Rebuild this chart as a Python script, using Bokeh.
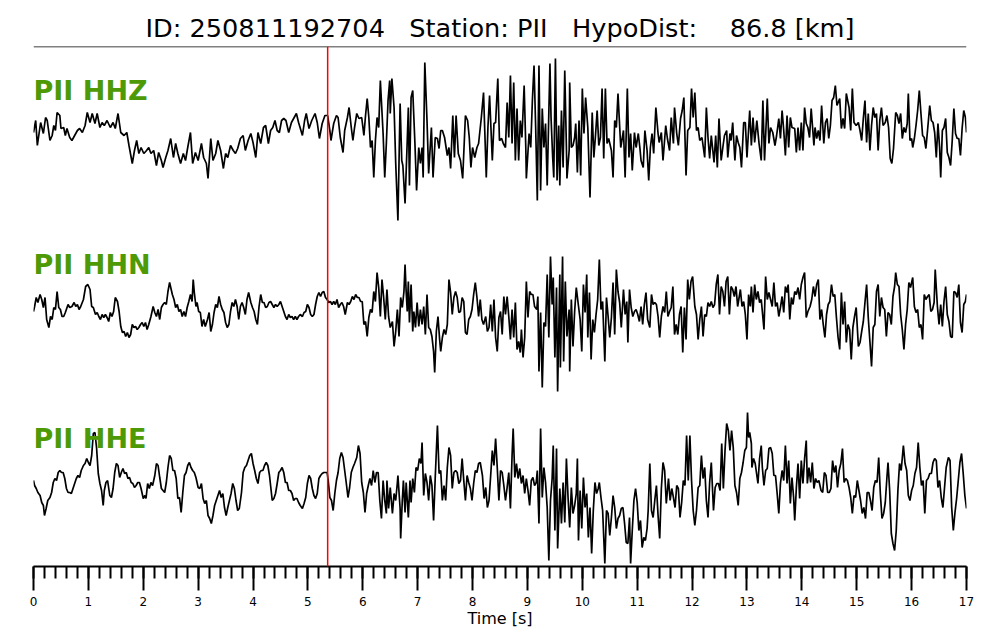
from bokeh.plotting import figure
from bokeh.models import Range1d, Span, SingleIntervalTicker, Label
from bokeh.embed import file_html
from bokeh.resources import INLINE

EVENT_ID = "250811192704"
STATION = "PII"
HYPO_DIST_KM = 86.8
P_PICK_S = 5.36
CHANNELS = ["HHZ", "HHN", "HHE"]

# (time [s], normalised amplitude) samples
HHZ = [(0.00,-2),(0.04,10),(0.07,-15),(0.13,8),(0.18,-3),(0.22,13),(0.25,10),(0.30,-10),(0.34,-5),(0.37,5),(0.40,0),(0.43,18),(0.48,15),(0.50,2),(0.55,3),(0.58,-5),(0.61,2),(0.66,-7),(0.70,-10),(0.75,-5),(0.80,0),(0.84,2),(0.89,-2),(0.94,5),(0.98,18),(1.03,8),(1.07,17),(1.12,7),(1.16,17),(1.21,3),(1.25,8),(1.29,5),(1.34,10),(1.40,3),(1.45,8),(1.49,2),(1.54,17),(1.59,-2),(1.65,-5),(1.70,-2),(1.74,-15),(1.80,-33),(1.84,-20),(1.88,-10),(1.92,-23),(1.96,-17),(2.01,-23),(2.06,-20),(2.10,-17),(2.14,-23),(2.19,-20),(2.24,-35),(2.28,-22),(2.33,-30),(2.36,-37),(2.41,-27),(2.45,-20),(2.50,-8),(2.55,-27),(2.59,-13),(2.63,-23),(2.68,-33),(2.73,-23),(2.77,-30),(2.81,-17),(2.86,-2),(2.90,-33),(2.95,-22),(3.00,-30),(3.06,-13),(3.10,-27),(3.15,-33),(3.18,-48),(3.23,-8),(3.27,-30),(3.32,-23),(3.36,-10),(3.41,-20),(3.46,-38),(3.50,-23),(3.54,-27),(3.59,-15),(3.64,-20),(3.68,-23),(3.72,-18),(3.77,-8),(3.82,-5),(3.86,-20),(3.91,-10),(3.96,-3),(4.00,-12),(4.05,-27),(4.09,-2),(4.14,-13),(4.19,3),(4.23,5),
       (4.28,-13),(4.32,0),(4.36,3),(4.40,10),(4.44,0),(4.48,-2),(4.52,10),(4.56,12),(4.60,10),(4.65,-2),(4.70,8),(4.74,12),(4.79,17),(4.83,8),(4.90,-5),(4.94,10),(4.97,17),(5.02,2),(5.07,10),(5.13,17),(5.17,8),(5.21,-8),(5.26,7),(5.31,15),(5.36,15),(5.40,0),(5.42,-10),(5.47,7),(5.52,15),(5.55,13),(5.59,-7),(5.64,-22),(5.67,0),(5.72,13),(5.75,23),(5.79,3),(5.82,-10),(5.85,3),(5.89,17),(5.93,12),(5.98,13),(6.02,-5),(6.05,15),(6.08,32),(6.11,13),(6.14,-17),(6.17,-10),(6.20,-47),(6.23,-10),(6.26,13),(6.29,3),(6.32,50),(6.37,-3),(6.40,-47),(6.43,-12),(6.46,30),(6.49,50),(6.50,17),(6.53,52),(6.57,23),(6.60,-33),(6.64,-90),(6.68,27),(6.71,-30),(6.73,-35),(6.77,-73),(6.81,-10),(6.83,23),(6.85,-55),(6.88,33),(6.91,40),(6.95,-13),(6.98,-60),(7.02,-17),(7.05,-33),(7.08,-17),(7.10,-47),(7.13,68),(7.17,10),(7.20,-43),(7.25,3),(7.28,-47),(7.32,-7),(7.36,-8),(7.39,-18),(7.42,0),(7.45,0),(7.49,-7),(7.54,-25),(7.57,-17),(7.60,-38),(7.64,15),(7.67,-27),(7.70,15),(7.74,-23),(7.78,-30),(7.82,-48),(7.87,15),(7.91,10),(7.94,-7),(7.97,-37),(8.00,-17),(8.04,-27),(8.08,-17),(8.11,-13),(8.16,13),(8.20,38),(8.25,-47),(8.28,3),(8.31,35),(8.36,-30),(8.39,7),(8.42,8),(8.46,52),(8.49,-10),(8.53,-8),(8.56,-13),
       (8.60,-17),(8.63,28),(8.66,-7),(8.69,55),(8.72,-13),(8.75,48),(8.78,-30),(8.81,22),(8.84,-30),(8.87,10),(8.90,-7),(8.94,45),(8.97,-17),(8.98,-48),(9.03,-3),(9.06,-17),(9.09,30),(9.12,65),(9.15,3),(9.18,-70),(9.21,65),(9.24,-60),(9.27,22),(9.30,-17),(9.33,7),(9.36,-55),(9.41,67),(9.43,13),(9.46,-27),(9.48,-47),(9.51,72),(9.54,-50),(9.57,5),(9.59,-55),(9.62,20),(9.65,-37),(9.68,60),(9.71,-17),(9.72,-48),(9.76,-20),(9.77,48),(9.80,-17),(9.83,-15),(9.86,-7),(9.88,7),(9.91,-42),(9.94,10),(9.97,-45),(10.00,42),(10.03,-3),(10.06,33),(10.10,3),(10.14,-67),(10.18,18),(10.21,-27),(10.24,-5),(10.27,20),(10.30,-15),(10.33,-7),(10.36,42),(10.39,-28),(10.42,42),(10.45,-13),(10.48,-8),(10.53,-20),(10.56,-47),(10.59,10),(10.62,3),(10.65,37),(10.70,-17),(10.75,0),(10.78,-47),(10.82,42),(10.85,-27),(10.88,-3),(10.91,-40),(10.95,-2),(10.98,-17),(11.02,-3),(11.05,-18),(11.07,-30),(11.11,-37),(11.14,0),(11.18,-20),(11.21,-50),(11.24,-17),(11.27,-3),(11.30,-23),(11.34,23),(11.38,-3),(11.40,-12),(11.44,-2),(11.47,-30),(11.52,5),(11.55,-8),(11.59,-20),(11.62,13),(11.66,-13),(11.68,23),(11.72,-3),(11.75,-15),(11.79,12),(11.82,20),(11.85,33),(11.89,-45),(11.92,0),(11.96,3),(11.99,42),(12.02,13),(12.05,38),(12.08,0),(12.11,3),(12.14,-10),(12.18,-7),(12.23,-27),(12.26,23),(12.29,-7),(12.32,-28),(12.35,-5),(12.40,-32),(12.43,-5),(12.46,-37),(12.49,12),(12.53,-30),(12.56,-17),(12.59,-5),(12.63,0),(12.65,-27),(12.69,-3),(12.71,-10),(12.74,8),(12.78,-30),(12.81,-5),(12.84,-12),(12.87,-17),
       (12.90,-37),(12.94,8),(12.97,8),(13.00,-27),(13.05,20),(13.08,-15),(13.11,13),(13.14,-12),(13.18,10),(13.22,-13),(13.26,-30),(13.29,30),(13.32,-30),(13.37,32),(13.40,-13),(13.43,3),(13.47,-2),(13.51,-15),(13.54,-5),(13.58,12),(13.61,-8),(13.64,20),(13.67,0),(13.70,-25),(13.73,15),(13.76,-17),(13.79,13),(13.82,3),(13.87,2),(13.90,-22),(13.93,3),(13.96,-20),(13.99,8),(14.02,-20),(14.05,23),(14.08,7),(14.11,3),(14.14,-7),(14.17,22),(14.22,-15),(14.24,3),(14.27,-8),(14.30,0),(14.33,-10),(14.36,25),(14.40,-13),(14.43,8),(14.46,12),(14.49,-8),(14.52,5),(14.55,30),(14.58,33),(14.61,45),(14.64,25),(14.69,32),(14.72,2),(14.75,12),(14.78,2),(14.81,37),(14.86,23),(14.89,0),(14.92,42),(14.95,8),(14.99,5),(15.03,8),(15.06,0),(15.09,-10),(15.12,12),(15.15,30),(15.18,-12),(15.21,17),(15.24,-20),(15.27,5),(15.30,23),(15.33,13),(15.36,17),(15.39,-20),(15.42,10),(15.45,23),(15.48,5),(15.52,8),(15.55,15),(15.58,3),(15.61,-28),(15.64,-33),(15.67,-18),(15.71,18),(15.74,15),(15.77,7),(15.80,17),(15.83,-8),(15.86,3),(15.89,-2),(15.92,7),(15.94,37),(15.97,-10),(16.00,-8),(16.02,-17),(16.05,-8),(16.08,5),(16.11,20),(16.14,40),(16.17,17),(16.20,-5),(16.23,-7),(16.26,-18),(16.29,0),(16.33,25),(16.36,10),(16.39,8),(16.42,-2),(16.45,-27),(16.48,7),(16.51,-17),(16.53,-47),(16.56,0),(16.59,3),(16.62,12),(16.65,-22),(16.68,-27),(16.71,-35),(16.74,-10),(16.77,22),(16.80,-3),(16.83,-8),(16.86,-8),(16.89,-25),(16.92,2),(16.95,20),(16.98,13),(17.00,-2)]

HHN = [(0.00,-7),(0.02,-2),(0.05,7),(0.08,2),(0.12,10),(0.15,5),(0.18,-3),(0.21,7),(0.24,-15),(0.28,-23),(0.31,-12),(0.34,-15),(0.37,-3),(0.40,-5),(0.43,13),(0.46,-3),(0.49,-5),(0.52,-12),(0.55,-12),(0.58,-8),(0.63,0),(0.66,-3),(0.70,-2),(0.74,2),(0.77,-2),(0.80,0),(0.83,-5),(0.86,-2),(0.91,5),(0.95,18),(0.99,20),(1.03,15),(1.06,-2),(1.09,-3),(1.13,-10),(1.16,-8),(1.19,-12),(1.22,-15),(1.25,-10),(1.28,-13),(1.31,-10),(1.34,-13),(1.37,-17),(1.40,-8),(1.43,-12),(1.46,-7),(1.49,7),(1.53,3),(1.56,-7),(1.59,-22),(1.62,-28),(1.65,-27),(1.68,-32),(1.71,-28),(1.74,-33),(1.77,-30),(1.80,-20),(1.83,-23),(1.86,-22),(1.89,-25),(1.92,-23),(1.95,-20),(1.98,-18),(2.01,-22),(2.04,-18),(2.07,-25),(2.10,-20),(2.14,-12),(2.18,-2),(2.21,-8),(2.24,-12),(2.27,-5),(2.30,-15),(2.33,-3),(2.36,0),(2.39,2),(2.42,0),(2.45,13),(2.48,22),(2.53,10),(2.56,5),(2.59,-3),(2.62,0),(2.65,-7),(2.68,-5),(2.71,-12),(2.74,-7),(2.77,-12),(2.80,-3),(2.83,3),(2.86,10),(2.89,3),(2.91,25),(2.93,12),(2.96,-2),(2.98,2),(3.01,-7),(3.04,-8),(3.07,-22),(3.10,-15),(3.13,-22),(3.17,-15),(3.20,-8),(3.23,-27),(3.26,-20),(3.29,-8),(3.32,0),(3.35,-3),(3.38,8),(3.41,0),(3.44,-5),(3.47,-8),(3.50,-18),(3.53,-23),(3.56,-20),(3.59,-7),(3.62,2),(3.65,-2),(3.68,5),(3.71,-2),(3.74,-15),(3.77,-2),(3.80,2),(3.83,-3),(3.86,-10),(3.89,5),(3.92,12),(3.96,2),(3.99,-3),(4.02,-7),(4.05,-15),(4.08,-20),(4.11,-2),(4.14,10),(4.17,2),(4.20,2),(4.23,-3),(4.26,-2),(4.29,2),(4.32,3),
       (4.35,0),(4.38,-3),(4.41,0),(4.44,-2),(4.47,0),(4.50,3),(4.53,-2),(4.56,-7),(4.59,-12),(4.62,-15),(4.65,-10),(4.68,-13),(4.71,-12),(4.74,-15),(4.77,-12),(4.80,-15),(4.83,-12),(4.86,-10),(4.90,-12),(4.93,-8),(4.96,-7),(4.99,0),(5.02,-3),(5.05,-10),(5.08,-12),(5.11,-10),(5.14,0),(5.17,8),(5.20,12),(5.23,8),(5.26,12),(5.29,13),(5.32,7),(5.35,5),(5.38,2),(5.41,3),(5.44,0),(5.47,3),(5.50,0),(5.53,5),(5.56,-3),(5.59,0),(5.62,2),(5.65,-2),(5.68,-10),(5.72,2),(5.75,0),(5.78,3),(5.81,8),(5.84,5),(5.87,10),(5.90,7),(5.93,7),(5.96,3),(5.99,3),(6.02,-20),(6.05,-17),(6.08,-32),(6.11,-13),(6.14,-5),(6.17,-8),(6.20,13),(6.23,3),(6.26,32),(6.29,17),(6.32,-12),(6.35,25),(6.38,7),(6.41,-15),(6.44,15),(6.47,-12),(6.50,-23),(6.54,-17),(6.57,-42),(6.60,-27),(6.63,-5),(6.66,-32),(6.69,7),(6.72,-3),(6.75,13),(6.77,40),(6.79,13),(6.81,-7),(6.83,23),(6.85,-18),(6.88,20),(6.91,-27),(6.93,-7),(6.96,-23),(6.99,2),(7.02,-22),(7.05,-5),(7.08,-20),(7.11,-2),(7.14,-30),(7.17,10),(7.20,-23),(7.23,-25),(7.26,-32),(7.29,-47),(7.31,-68),(7.34,-27),(7.37,-12),(7.40,-35),(7.42,-47),(7.45,-33),(7.48,-25),(7.51,-30),(7.54,-20),(7.57,25),(7.60,12),(7.63,-10),(7.66,7),(7.69,13),(7.72,7),(7.75,-8),(7.78,-7),(7.81,7),(7.84,3),(7.87,-28),(7.90,-30),(7.93,-15),(7.96,-12),(7.99,-5),(8.02,10),(8.05,22),(8.08,7),(8.11,-12),(8.14,5),(8.17,-15),(8.20,-20),(8.24,-12),(8.27,-27),(8.30,-23),(8.33,0),(8.36,-27),(8.39,5),(8.42,-33),(8.45,-47),(8.48,-13),(8.51,-7),(8.54,-30),(8.57,8),
       (8.60,-10),(8.63,8),(8.66,-12),(8.69,-35),(8.72,-5),(8.75,-33),(8.78,2),(8.81,-45),(8.84,-37),(8.87,-48),(8.89,-25),(8.92,-53),(8.95,-33),(8.98,23),(9.01,-13),(9.04,13),(9.07,10),(9.10,10),(9.13,-2),(9.17,-5),(9.19,8),(9.21,-67),(9.24,-8),(9.27,-83),(9.30,-18),(9.33,-22),(9.36,30),(9.39,-33),(9.42,48),(9.45,0),(9.47,27),(9.50,-53),(9.53,17),(9.55,-87),(9.59,30),(9.60,-63),(9.64,48),(9.66,-57),(9.69,23),(9.72,-32),(9.76,-5),(9.77,-67),(9.80,5),(9.83,-42),(9.86,-7),(9.89,17),(9.92,3),(9.96,-15),(9.99,-47),(10.02,20),(10.05,-8),(10.08,30),(10.10,-33),(10.13,12),(10.16,-55),(10.19,-15),(10.22,-28),(10.25,-10),(10.28,5),(10.31,45),(10.34,-5),(10.37,3),(10.41,-57),(10.44,7),(10.47,-12),(10.50,-33),(10.53,-13),(10.56,22),(10.59,-30),(10.62,35),(10.65,13),(10.68,2),(10.71,-23),(10.75,15),(10.78,-10),(10.81,3),(10.83,-38),(10.86,15),(10.89,-3),(10.92,-12),(10.95,-7),(10.98,-5),(11.01,-10),(11.04,-17),(11.07,-2),(11.10,-20),(11.13,0),(11.16,12),(11.19,-15),(11.23,-23),(11.26,10),(11.29,0),(11.32,2),(11.35,0),(11.38,-12),(11.41,-33),(11.44,-12),(11.47,-2),(11.50,-8),(11.53,13),(11.56,-12),(11.59,-7),(11.62,-3),(11.65,18),(11.68,-30),(11.71,-20),(11.74,-30),(11.77,-10),(11.80,-2),(11.83,-48),(11.86,-3),(11.89,-35),(11.92,25),(11.95,5),(11.98,23),(12.01,28),(12.05,-2),(12.08,-10),(12.11,-35),(12.14,-15),(12.17,-2),(12.20,-32),(12.23,-10),(12.26,-12),(12.29,2),(12.32,-2),(12.35,3),(12.38,-3),(12.41,0),(12.44,20),(12.47,30),(12.50,-10),(12.53,18),(12.56,13),(12.59,-2),(12.62,23),(12.65,28),(12.68,-10),(12.71,18),(12.74,15),(12.77,8),(12.80,18),(12.83,-2),(12.86,8),
       (12.88,15),(12.91,-2),(12.94,3),(12.97,-10),(13.00,-35),(13.03,10),(13.06,-2),(13.08,18),(13.11,-8),(13.14,20),(13.17,5),(13.20,13),(13.23,2),(13.26,5),(13.31,-25),(13.34,28),(13.37,5),(13.40,12),(13.43,5),(13.46,-2),(13.49,22),(13.52,-2),(13.55,2),(13.58,-12),(13.61,-3),(13.64,8),(13.67,-8),(13.70,18),(13.73,12),(13.75,20),(13.78,-15),(13.81,7),(13.84,0),(13.87,13),(13.90,10),(13.93,17),(13.96,5),(13.99,20),(14.02,27),(14.05,32),(14.08,-13),(14.11,-7),(14.15,-2),(14.18,5),(14.21,18),(14.24,8),(14.27,20),(14.30,25),(14.33,-15),(14.36,-5),(14.39,-20),(14.42,-33),(14.45,-10),(14.48,0),(14.51,3),(14.54,20),(14.57,8),(14.60,10),(14.63,-13),(14.66,-33),(14.69,-45),(14.72,12),(14.75,-20),(14.78,3),(14.81,-38),(14.84,-20),(14.87,-25),(14.90,-55),(14.93,-23),(14.96,-12),(14.99,-3),(15.03,-42),(15.06,-38),(15.09,-27),(15.12,-17),(15.15,2),(15.18,20),(15.21,-13),(15.24,-37),(15.27,-62),(15.30,-23),(15.33,-20),(15.36,13),(15.39,20),(15.42,-12),(15.45,7),(15.48,-3),(15.51,-5),(15.54,-32),(15.57,-8),(15.60,-10),(15.63,-20),(15.66,8),(15.69,18),(15.71,32),(15.74,20),(15.77,18),(15.80,-10),(15.83,-25),(15.86,-45),(15.89,-20),(15.92,-5),(15.95,22),(15.98,17),(16.02,27),(16.05,-2),(16.08,-8),(16.11,-5),(16.14,-23),(16.17,-20),(16.20,-35),(16.23,10),(16.26,5),(16.29,8),(16.32,10),(16.35,-7),(16.38,-5),(16.41,2),(16.43,35),(16.47,-2),(16.50,-20),(16.53,0),(16.56,-22),(16.59,3),(16.62,18),(16.65,-10),(16.68,-17),(16.71,-32),(16.74,-33),(16.77,13),(16.80,12),(16.83,7),(16.86,20),(16.89,-18),(16.92,-28),(16.95,0),(16.98,3),(17.00,10)]

HHE = [(0.00,-2),(0.02,-7),(0.05,-10),(0.08,-14),(0.12,-17),(0.15,-24),(0.18,-27),(0.20,-37),(0.23,-30),(0.26,-22),(0.30,-19),(0.33,-14),(0.36,-4),(0.39,0),(0.42,-2),(0.45,6),(0.48,8),(0.51,6),(0.54,6),(0.57,0),(0.60,-10),(0.63,-14),(0.66,-14),(0.69,-15),(0.72,-10),(0.75,-5),(0.78,0),(0.81,3),(0.84,1),(0.87,8),(0.91,13),(0.94,15),(0.97,20),(1.00,16),(1.03,13),(1.06,23),(1.09,45),(1.12,46),(1.15,30),(1.18,5),(1.21,-5),(1.24,-12),(1.27,-27),(1.29,-12),(1.32,-4),(1.35,-2),(1.39,-17),(1.42,-19),(1.45,-10),(1.48,6),(1.51,15),(1.54,13),(1.57,1),(1.60,6),(1.63,10),(1.66,5),(1.69,6),(1.72,0),(1.75,1),(1.78,-4),(1.81,-5),(1.84,-9),(1.87,-7),(1.90,-4),(1.93,-4),(1.96,-10),(2.00,-20),(2.03,-17),(2.05,-20),(2.08,-5),(2.11,-10),(2.14,-4),(2.17,-7),(2.21,3),(2.24,15),(2.27,13),(2.30,1),(2.33,-10),(2.36,-12),(2.39,-14),(2.42,-4),(2.45,11),(2.48,23),(2.51,20),(2.54,8),(2.57,8),(2.60,0),(2.63,-20),(2.66,-19),(2.69,-34),(2.72,-14),(2.75,3),(2.78,6),(2.81,13),(2.84,16),(2.87,11),(2.90,8),(2.93,6),(2.96,1),(3.00,-9),(3.03,-10),(3.06,-5),(3.09,-20),(3.12,-25),(3.15,-22),(3.18,-37),(3.21,-40),(3.24,-45),(3.27,-37),(3.30,-27),(3.33,-22),(3.36,-17),(3.39,-12),(3.42,-19),(3.45,-15),(3.48,-29),(3.51,-37),(3.54,-29),(3.57,-22),(3.60,-15),(3.63,-5),(3.66,-10),(3.69,-22),(3.72,-32),(3.75,-30),(3.79,-14),(3.82,6),(3.85,11),(3.88,13),(3.91,18),(3.94,23),(3.97,25),(4.00,15),(4.03,8),(4.06,0),(4.09,-5),(4.12,6),(4.15,8),(4.18,8),(4.21,13),(4.24,16),(4.27,13),(4.30,3),(4.32,-7),
       (4.35,-22),(4.38,-20),(4.41,-15),(4.44,-5),(4.47,6),(4.50,8),(4.53,11),(4.56,6),(4.59,-4),(4.62,-4),(4.65,-12),(4.68,-12),(4.71,-15),(4.74,-22),(4.77,-20),(4.80,-20),(4.83,-24),(4.86,-27),(4.90,-30),(4.93,-25),(4.96,-19),(4.99,-5),(5.02,3),(5.05,0),(5.08,-10),(5.11,-17),(5.14,-20),(5.17,-15),(5.20,0),(5.23,3),(5.26,5),(5.29,6),(5.32,6),(5.35,6),(5.37,-2),(5.40,-19),(5.43,-22),(5.46,-32),(5.49,-15),(5.52,-2),(5.55,6),(5.58,20),(5.61,26),(5.64,21),(5.67,8),(5.70,-5),(5.73,-19),(5.76,-9),(5.79,6),(5.82,11),(5.85,15),(5.89,21),(5.92,33),(5.95,25),(5.98,-4),(6.01,-14),(6.04,-34),(6.07,-15),(6.10,-7),(6.13,0),(6.16,-7),(6.19,8),(6.22,-4),(6.25,6),(6.28,6),(6.31,-22),(6.34,-40),(6.37,-2),(6.40,-22),(6.43,-35),(6.44,-2),(6.47,-30),(6.50,-9),(6.54,-35),(6.57,-15),(6.60,-22),(6.63,-4),(6.64,3),(6.68,-30),(6.69,-60),(6.72,-22),(6.74,-2),(6.77,-34),(6.79,-4),(6.83,-39),(6.86,-2),(6.88,-24),(6.91,0),(6.94,-14),(6.97,11),(7.00,8),(7.03,20),(7.06,15),(7.08,36),(7.11,-17),(7.14,5),(7.17,-4),(7.20,-22),(7.23,3),(7.26,-7),(7.29,-42),(7.32,1),(7.36,53),(7.39,5),(7.42,8),(7.45,-22),(7.48,-7),(7.51,-22),(7.54,11),(7.57,31),(7.60,23),(7.63,-10),(7.66,6),(7.69,8),(7.72,6),(7.75,-5),(7.78,-2),(7.81,20),(7.84,-2),(7.87,-22),(7.90,3),(7.93,-4),(7.96,-10),(7.99,-22),(8.02,-5),(8.05,8),(8.08,6),(8.11,15),(8.14,16),(8.18,3),(8.21,-20),(8.24,-9),(8.27,-29),(8.30,-22),(8.33,3),(8.36,28),(8.39,13),(8.42,40),(8.45,11),(8.48,-22),(8.51,8),(8.54,6),(8.57,-7),
       (8.60,-22),(8.63,-9),(8.66,6),(8.69,-30),(8.72,23),(8.74,50),(8.77,1),(8.80,15),(8.83,0),(8.86,10),(8.89,-5),(8.92,3),(8.95,-15),(8.98,0),(9.01,-12),(9.04,-27),(9.07,-2),(9.10,1),(9.13,-7),(9.16,-4),(9.18,8),(9.21,-45),(9.24,50),(9.27,-19),(9.30,11),(9.33,-4),(9.36,-29),(9.39,-82),(9.42,-22),(9.45,0),(9.47,33),(9.50,-52),(9.53,30),(9.55,-70),(9.59,-10),(9.62,-45),(9.65,-4),(9.68,-44),(9.71,20),(9.74,-19),(9.77,-49),(9.80,-9),(9.83,-35),(9.86,-27),(9.89,-15),(9.91,20),(9.93,-62),(9.96,-12),(9.99,-50),(10.02,1),(10.05,-29),(10.08,-15),(10.11,-59),(10.14,-29),(10.17,-75),(10.20,-32),(10.23,-4),(10.26,-15),(10.29,-10),(10.31,-4),(10.34,-19),(10.37,-32),(10.41,-85),(10.44,-32),(10.47,-35),(10.50,-57),(10.53,-39),(10.56,-17),(10.59,-29),(10.62,-50),(10.65,-40),(10.68,-37),(10.71,-30),(10.74,-29),(10.77,-45),(10.80,-64),(10.83,-65),(10.86,-39),(10.88,-85),(10.91,-52),(10.94,-22),(10.97,-10),(11.00,-24),(11.03,-52),(11.06,-42),(11.09,-69),(11.12,-59),(11.15,-62),(11.18,-50),(11.20,-32),(11.23,15),(11.26,-32),(11.29,-39),(11.32,-22),(11.35,-7),(11.38,-37),(11.41,-60),(11.44,-10),(11.47,16),(11.50,8),(11.53,-25),(11.57,0),(11.60,-22),(11.63,-10),(11.66,-19),(11.69,-29),(11.72,-7),(11.75,-10),(11.78,-39),(11.81,-24),(11.84,-2),(11.87,-7),(11.90,43),(11.93,-2),(11.96,43),(11.99,-2),(12.02,-32),(12.05,-47),(12.08,-32),(12.11,-9),(12.14,-7),(12.17,23),(12.20,0),(12.23,11),(12.26,-22),(12.29,-39),(12.32,-4),(12.35,16),(12.39,-32),(12.42,-9),(12.45,-5),(12.48,-5),(12.51,-12),(12.54,35),(12.57,-10),(12.60,28),(12.63,55),(12.66,48),(12.69,28),(12.72,48),(12.75,31),(12.78,-7),(12.81,-14),(12.84,-27),(12.87,0),
       (12.90,6),(12.93,16),(12.96,28),(12.99,31),(13.01,66),(13.03,41),(13.05,46),(13.08,35),(13.09,11),(13.12,20),(13.15,15),(13.18,3),(13.20,-5),(13.23,20),(13.26,33),(13.28,11),(13.31,-7),(13.34,8),(13.37,10),(13.40,30),(13.43,31),(13.46,25),(13.49,3),(13.52,3),(13.55,-15),(13.58,-35),(13.61,-5),(13.64,8),(13.67,-2),(13.70,33),(13.73,-5),(13.76,18),(13.79,-25),(13.82,1),(13.85,-19),(13.87,-42),(13.90,-9),(13.93,15),(13.96,-20),(13.99,18),(14.02,-5),(14.05,20),(14.08,38),(14.10,-5),(14.13,11),(14.16,-4),(14.19,16),(14.22,-10),(14.25,0),(14.28,-4),(14.31,-2),(14.35,-12),(14.38,-14),(14.41,6),(14.44,3),(14.47,-14),(14.50,-14),(14.53,-10),(14.56,18),(14.59,6),(14.62,13),(14.65,-9),(14.68,8),(14.71,15),(14.74,30),(14.77,-4),(14.80,0),(14.83,-2),(14.86,-9),(14.89,-19),(14.92,-35),(14.95,-17),(14.98,-19),(15.01,-2),(15.04,-12),(15.07,-22),(15.10,-35),(15.13,-29),(15.16,-40),(15.19,-14),(15.22,-14),(15.25,-22),(15.28,-32),(15.31,-9),(15.34,-2),(15.37,-4),(15.40,21),(15.43,-15),(15.46,-40),(15.49,-35),(15.52,-24),(15.55,1),(15.57,16),(15.60,-12),(15.63,-55),(15.66,-65),(15.69,-72),(15.72,-52),(15.75,-12),(15.78,15),(15.81,8),(15.85,33),(15.88,15),(15.91,8),(15.94,-17),(15.97,-22),(16.00,-12),(16.03,-7),(16.06,5),(16.09,11),(16.12,36),(16.15,11),(16.18,-7),(16.21,-2),(16.24,-35),(16.27,-2),(16.30,0),(16.33,5),(16.36,5),(16.39,16),(16.42,20),(16.45,18),(16.48,-9),(16.51,-2),(16.54,-19),(16.57,-29),(16.60,-9),(16.63,11),(16.67,21),(16.70,18),(16.73,-29),(16.76,-52),(16.79,-34),(16.82,-20),(16.85,-2),(16.88,16),(16.91,25),(16.94,5),(16.97,-17),(17.00,-30)]

TRACES = [HHZ, HHN, HHE]

FONT = "DejaVu Sans"
TRACE_SPACING = 174
BASE_OFFSET = 88
FRAME_H = 520

p = figure(width=1000, height=640,
           x_range=Range1d(0, 17), y_range=Range1d(0, FRAME_H),
           output_backend="svg", toolbar_location=None,
           y_axis_location=None,
           min_border_left=33, min_border_right=34,
           min_border_top=46, min_border_bottom=74,
           title=f"ID: {EVENT_ID}\u00a0\u00a0\u00a0Station: {STATION}\u00a0\u00a0\u00a0HypoDist:\u00a0\u00a0\u00a0\u00a0{HYPO_DIST_KM:.1f} [km]")

p.title.align = "center"
p.title.text_font = FONT
p.title.text_font_size = "25.6px"
p.title.text_font_style = "normal"
p.title.text_color = "black"
p.title.standoff = 7

p.grid.visible = False
p.outline_line_color = None
p.background_fill_color = "white"
p.border_fill_color = "white"

ax = p.xaxis[0]
ax.ticker = SingleIntervalTicker(interval=1, num_minor_ticks=5)
ax.axis_line_width = 2
ax.axis_line_color = "black"
ax.major_tick_in = 0
ax.major_tick_out = 24
ax.minor_tick_in = 0
ax.minor_tick_out = 12
ax.major_tick_line_width = 2
ax.minor_tick_line_width = 2
ax.major_tick_line_color = "black"
ax.minor_tick_line_color = "black"
ax.major_label_text_font = FONT
ax.major_label_text_font_size = "12px"
ax.major_label_text_color = "black"
ax.major_label_standoff = 6
ax.axis_label = "Time [s]"
ax.axis_label_text_font = FONT
ax.axis_label_text_font_size = "16px"
ax.axis_label_text_font_style = "normal"
ax.axis_label_text_color = "black"
ax.axis_label_standoff = 0

for i, (name, data) in enumerate(zip(CHANNELS, TRACES)):
    offset = BASE_OFFSET + (len(CHANNELS) - 1 - i) * TRACE_SPACING
    t = [d[0] for d in data]
    y = [offset + d[1] for d in data]
    p.line(t, y, line_color="black", line_width=1.7)
    p.add_layout(Label(x=0, y=offset + 40, text=f"{STATION} {name}",
                       text_font=FONT, text_font_size="27px", text_font_style="bold",
                       text_color="#4e9a06", text_baseline="alphabetic", text_align="left"))

p.add_layout(Span(location=FRAME_H, dimension="width", line_color="black", line_width=1.5))
p.add_layout(Span(location=P_PICK_S, dimension="height", line_color="#ff0000", line_width=1.5))

open("out.html", "w").write(file_html(p, INLINE))
